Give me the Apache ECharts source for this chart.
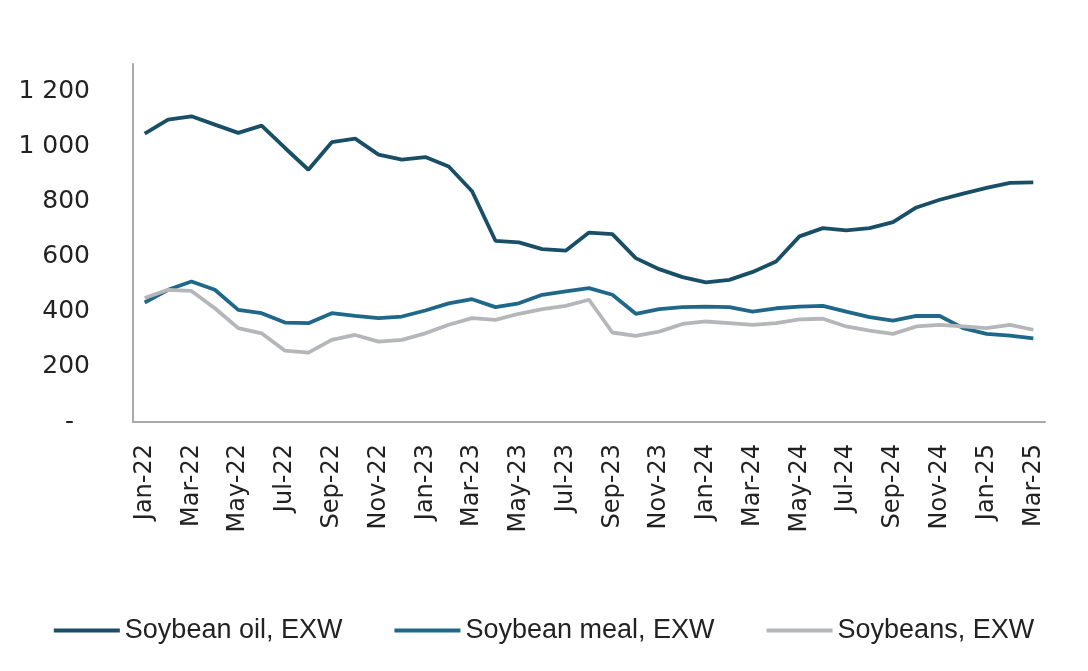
<!DOCTYPE html>
<html>
<head>
<meta charset="utf-8">
<script src="https://cdn.jsdelivr.net/npm/echarts@6/dist/echarts.min.js"></script>
<style>html,body{margin:0;padding:0;background:#fff;}#c{width:1088px;height:671px;}</style>
</head>
<body>
<div id="c"></div>
<script>
const categories = ["Jan-22","Feb-22","Mar-22","Apr-22","May-22","Jun-22","Jul-22","Aug-22","Sep-22","Oct-22","Nov-22","Dec-22",
"Jan-23","Feb-23","Mar-23","Apr-23","May-23","Jun-23","Jul-23","Aug-23","Sep-23","Oct-23","Nov-23","Dec-23",
"Jan-24","Feb-24","Mar-24","Apr-24","May-24","Jun-24","Jul-24","Aug-24","Sep-24","Oct-24","Nov-24","Dec-24",
"Jan-25","Feb-25","Mar-25"];
const soybeanOil = [1047,1098,1110,1080,1050,1076,995,916,1016,1029,971,953,962,928,838,658,652,628,622,688,682,595,555,526,507,516,545,583,674,704,696,704,726,779,807,829,850,868,870];
const soybeanMeal = [434,480,510,480,407,395,361,359,395,385,377,383,405,431,446,417,431,462,474,486,462,393,410,417,419,417,401,413,419,422,401,381,368,385,385,341,320,314,304];
const soybeans = [450,480,476,413,341,322,259,252,298,316,292,298,322,353,377,371,393,410,422,444,325,313,328,356,365,359,353,359,373,375,347,332,320,347,353,347,341,353,335];
const seriesNames = ["Soybean oil, EXW","Soybean meal, EXW","Soybeans, EXW"];
const yTicks = [0,200,400,600,800,1000,1200];

const colors = ['#184f66','#1f6889','#b4b6b9'];
const chart = echarts.init(document.getElementById('c'));
function fmt(v){
  if (v === 0) return '-  ';
  if (yTicks.indexOf(v) < 0) return '';
  if (v >= 1000) return Math.floor(v/1000) + ' ' + String(v%1000).padStart(3,'0');
  return String(v);
}
const mk = (name, data, color) => ({
  name, type:'line', data, symbol:'none', smooth:false,
  lineStyle:{color, width:3.8}, itemStyle:{color}
});
chart.setOption({
  animation:false,
  color: colors,
  grid:{left:133, right:43, top:64, bottom:249, containLabel:false},
  legend:{
    data: seriesNames, bottom: 22, left:'center', icon:'rect', itemWidth:66, itemHeight:4, itemGap:52,
    textStyle:{fontFamily:'Liberation Sans', fontSize:27, color:'#222'}
  },
  xAxis:{
    type:'category', data:categories, boundaryGap:true,
    axisLine:{lineStyle:{color:'#a9a9a9', width:2}},
    axisTick:{show:false},
    axisLabel:{interval:1, rotate:90, margin:22, fontFamily:'DejaVu Sans', fontSize:24, color:'#222'}
  },
  yAxis:{
    type:'value', min:0, max:1300, interval:200,
    splitLine:{show:false},
    axisLine:{show:true, lineStyle:{color:'#a9a9a9', width:2}},
    axisTick:{show:false},
    axisLabel:{margin:43, fontFamily:'DejaVu Sans', fontSize:25, color:'#222', formatter:fmt, showMaxLabel:false}
  },
  series:[
    mk(seriesNames[0], soybeanOil, colors[0]),
    mk(seriesNames[1], soybeanMeal, colors[1]),
    mk(seriesNames[2], soybeans, colors[2])
  ]
});
</script>
</body>
</html>
